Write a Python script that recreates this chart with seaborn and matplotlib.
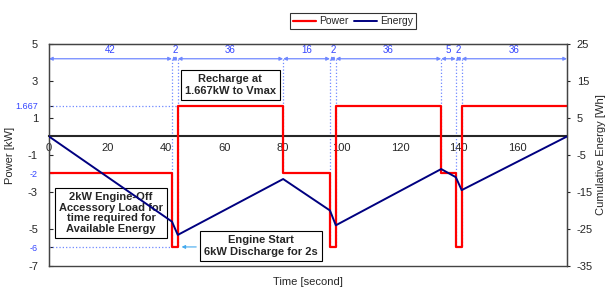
import numpy as np
import pandas as pd
import matplotlib
matplotlib.use('Agg')
import matplotlib.pyplot as plt
import seaborn as sns

# segment durations (s) and power level in each segment (kW)
seg_dur = [42, 2, 36, 16, 2, 36, 5, 2, 36]
seg_power = [-2, -6, 1.667, -2, -6, 1.667, -2, -6, 1.667]

# cumulative energy (Wh) at segment boundaries
energy_t = [0, 42, 44, 80, 96, 98, 134, 139, 141, 177]
energy_wh = [0, -23, -26.6, -11.5, -20, -24, -8.8, -11, -14.5, 0]

left_ticks = [5, 3, 1, -1, -3, -5, -7]
blue_ticks = [1.667, -2, -6]
right_ticks = [25, 15, 5, -5, -15, -25, -35]
x_ticks = [0, 20, 40, 60, 80, 100, 120, 140, 160]

sns.set_style('white')
plt.rcParams['font.family'] = ['Liberation Sans', 'DejaVu Sans']
plt.rcParams['axes.unicode_minus'] = False

bounds = np.concatenate([[0], np.cumsum(seg_dur)])
df_p = pd.DataFrame({'t': bounds, 'p': seg_power + [seg_power[-1]]})
df_e = pd.DataFrame({'t': energy_t, 'e': energy_wh})

fig = plt.figure(figsize=(6.15, 2.95), dpi=100)
ax = fig.add_axes([0.0797, 0.0983, 0.8423, 0.7527])
ax2 = ax.twinx()

blue = '#3344ff'
lblue = '#6f88ff'

sns.lineplot(data=df_p, x='t', y='p', ax=ax, color='#ff0000', lw=1.6,
             drawstyle='steps-post', label='Power', legend=False, zorder=5)
sns.lineplot(data=df_e, x='t', y='e', ax=ax2, color='#000080', lw=1.4,
             label='Energy', legend=False, zorder=5)

ax.set_xlim(0, bounds[-1])
ax.set_ylim(-7, 5)
ax2.set_ylim(-35, 25)

# x axis drawn through zero, frame bottom given by ax2
ax.spines['bottom'].set_position(('data', 0))
ax.spines['bottom'].set_linewidth(1.5)
for s in ['left', 'top', 'right']:
    ax.spines[s].set_color('#444444')
for s in ax2.spines.values():
    s.set_color('#444444')
    s.set_linewidth(1.0)
ax.set_xticks(x_ticks)
ax.tick_params(axis='x', direction='in', length=3, labelsize=8, pad=5)

yt = left_ticks + blue_ticks
ax.set_yticks(yt)
ax.set_yticklabels([str(v) for v in left_ticks] + [str(v) for v in blue_ticks])
for lab, v in zip(ax.get_yticklabels(), yt):
    if v in blue_ticks:
        lab.set_color(blue)
        lab.set_fontsize(6.5)
    else:
        lab.set_fontsize(8)
ax.tick_params(axis='y', direction='in', length=3, pad=8)
ax2.set_yticks(right_ticks)
ax2.tick_params(axis='y', direction='out', length=2, labelsize=8, pad=5)
ax.set_xlabel('')
ax.set_ylabel('Power [kW]', fontsize=8, labelpad=0)
ax2.set_xlabel('')
ax2.set_ylabel('Cumulative Energy [Wh]', fontsize=8, labelpad=2)
fig.text(0.5, 0.035, 'Time [second]', ha='center', fontsize=8)

# dotted guide lines
ax.plot([0, bounds[2]], [1.667, 1.667], ls=':', color=lblue, lw=0.9, zorder=2)
ax.plot([0, bounds[1]], [-6, -6], ls=':', color=lblue, lw=0.9, zorder=2)
for i, b in enumerate(bounds[1:-1], start=1):
    low = min(seg_power[i - 1], seg_power[i])
    ax.plot([b, b], [4.2, low], ls=':', color=lblue, lw=0.9, zorder=2)

# dimension arrows with durations
for i, d in enumerate(seg_dur):
    t0, t1 = bounds[i], bounds[i + 1]
    ax.annotate('', xy=(t1, 4.2), xytext=(t0, 4.2),
                arrowprops=dict(arrowstyle='<|-|>', color=lblue, lw=0.9,
                                mutation_scale=5, shrinkA=0, shrinkB=0))
    ax.text((t0 + t1) / 2, 4.4, str(d), ha='center', va='bottom',
            color=blue, fontsize=7)

box = dict(boxstyle='square,pad=0.35', fc='white', ec='black', lw=0.8)
ax.text(61.9, 2.78, 'Recharge at\n1.667kW to Vmax', ha='center', va='center',
        fontsize=8, fontweight='bold', bbox=box, zorder=6, linespacing=1.2)
ax.text(21.2, -4.14, '2kW Engine-Off\nAccessory Load for\ntime required for\nAvailable Energy',
        ha='center', va='center', fontsize=8, fontweight='bold', bbox=box,
        zorder=6, linespacing=1.1)
ax.text(72.5, -5.92, 'Engine Start\n6kW Discharge for 2s', ha='center',
        va='center', fontsize=8, fontweight='bold', bbox=box, zorder=6,
        linespacing=1.2)
ax.annotate('', xy=(45.3, -5.97), xytext=(50.3, -5.97),
            arrowprops=dict(arrowstyle='-|>', color='#44aaee', lw=0.8,
                            mutation_scale=5, shrinkA=0, shrinkB=0))

h1, l1 = ax.get_legend_handles_labels()
h2, l2 = ax2.get_legend_handles_labels()
leg = fig.legend(h1 + h2, l1 + l2, loc='upper center',
                 bbox_to_anchor=(353 / 615, 1 - 8 / 295), ncol=2, fontsize=7.5,
                 frameon=True, fancybox=False, edgecolor='black',
                 handlelength=2.2, handletextpad=0.3, columnspacing=0.5,
                 borderpad=0.3)
leg.get_frame().set_linewidth(0.8)

fig.savefig('out.png', dpi=100)
